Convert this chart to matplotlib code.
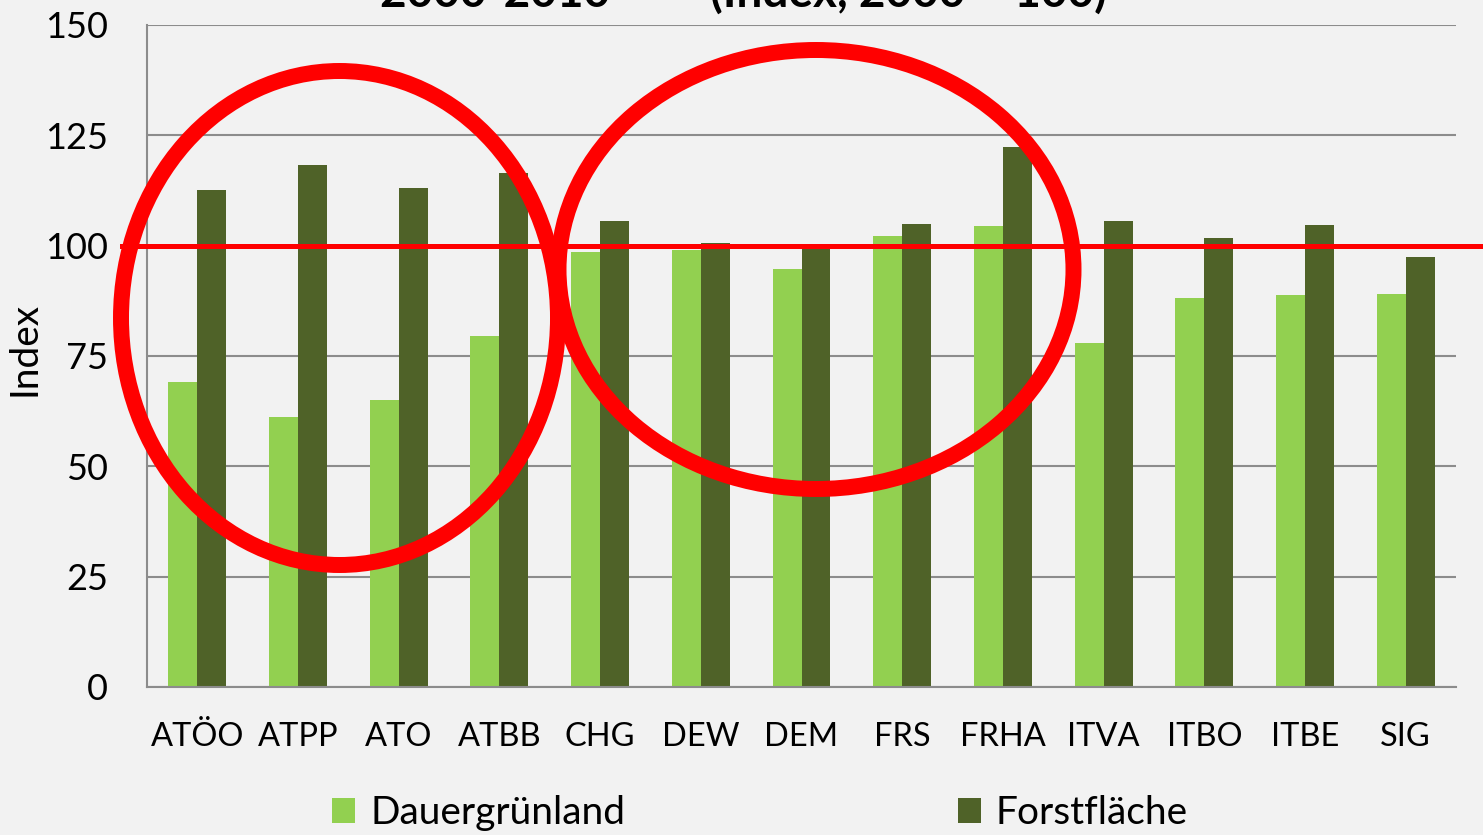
import matplotlib
matplotlib.use('Agg')
import matplotlib.pyplot as plt
from matplotlib.patches import Ellipse
import numpy as np

# data
Sites      =  ['ATÖO', 'ATPP', 'ATO', 'ATBB', 'CHG', 'DEW', 'DEM', 'FRS', 'FRHA', 'ITVA', 'ITBO', 'ITBE', 'SIG']
Grassland  =  [69.1, 61.2, 65.0, 79.5, 98.6, 99.0, 94.7, 102.1, 104.4, 78.0, 88.1, 88.8, 89.0]
Forest     =  [112.5, 118.3, 113.0, 116.4, 105.6, 100.6, 100.4, 104.8, 122.4, 105.5, 101.7, 104.6, 97.4]
SeriesName =  ['Dauergrünland', 'Forstfläche']
YTicks     =  [0, 25, 50, 75, 100, 125, 150]
RefValue   =  100

lightGreen =  '#92d050'
darkGreen  =  '#4f6228'
gridCol    =  '#8c8c8c'
bgCol      =  '#f2f2f2'
W, H       =  1483, 835

plt.rcParams['font.family'] = ['Lato', 'DejaVu Sans']

fig = plt.figure(figsize=(W/100, H/100), dpi=100)
fig.patch.set_facecolor(bgCol)
ax = fig.add_axes([147/W, 1-687/H, 1309/W, 662/H])
ax.set_facecolor(bgCol)

x = np.arange(len(Sites))
barW = 0.288
ax.bar(x - barW/2, Grassland, barW, color=lightGreen, label=SeriesName[0], zorder=2)
ax.bar(x + barW/2, Forest, barW, color=darkGreen, label=SeriesName[1], zorder=2)

ax.set_xlim(-0.5, len(Sites)-0.5)
ax.set_ylim(0, 150)
ax.set_yticks(YTicks)
ax.set_xticks(x)
ax.set_xticklabels(Sites, fontsize=23.5)
ax.tick_params(axis='x', length=0, pad=25)
ax.tick_params(axis='y', length=0, pad=28, labelsize=26)
ax.yaxis.grid(True, color=gridCol, linewidth=1.5, zorder=0)
ax.set_axisbelow(True)
for s in ['top', 'right']:
	ax.spines[s].set_visible(False)
for s in ['left', 'bottom']:
	ax.spines[s].set_color(gridCol)
	ax.spines[s].set_linewidth(1.5)
ax.set_ylabel('Index', fontsize=28)
ax.yaxis.set_label_coords(-0.0800, 0.51)

# reference line at 100, running past the axes
trans = matplotlib.transforms.blended_transform_factory(ax.transAxes, ax.transData)
ax.plot([(122-147)/1309, (W-147)/1309], [RefValue, RefValue], color='red', linewidth=3.6,
	transform=trans, clip_on=False, zorder=5)

# red circles drawn over the chart
for cx, cy, ew, eh in [(339.5, 318, 437, 494), (816, 269.5, 515, 439)]:
	e = Ellipse((cx/W, 1-cy/H), ew/W, eh/H, transform=fig.transFigure, fill=False,
		edgecolor='red', linewidth=11.5, zorder=6)
	fig.patches.append(e)

fig.text(743/W, 1-7/H, '2000-2010         (Index, 2000 = 100)', fontsize=33, fontweight='bold',
	ha='center', va='baseline')

leg = fig.legend(loc='center', bbox_to_anchor=(0.5125, 1-813/H), ncol=2, frameon=False, fontsize=28,
	handlelength=0.6, handleheight=0.6, handletextpad=0.38, columnspacing=8.55)

plt.savefig('out.png', dpi=100, facecolor=bgCol)
